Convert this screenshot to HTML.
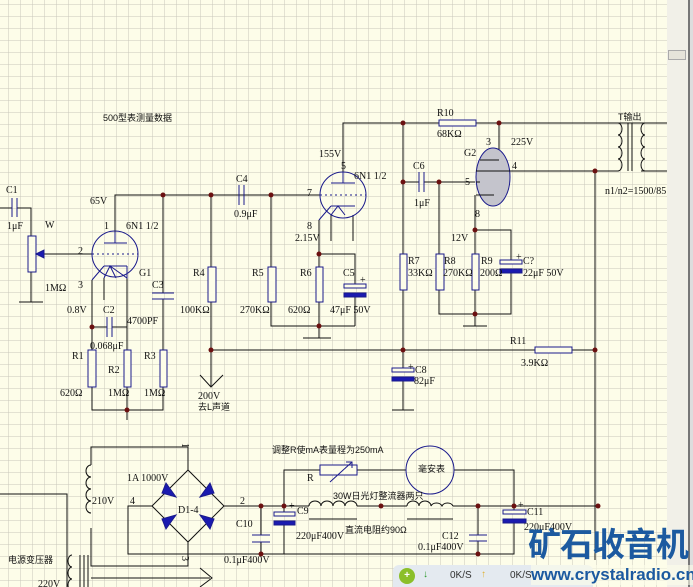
<!DOCTYPE html>
<html><head><meta charset="utf-8"><style>
html,body{margin:0;padding:0;width:693px;height:587px;overflow:hidden;background:#fdfde9}
svg{display:block}
text{font-family:"Liberation Serif","Noto Serif CJK SC","Noto Sans CJK SC",serif;font-size:10px;fill:#111}
.c{font-family:"Liberation Sans","Noto Sans CJK SC",sans-serif;font-size:9px}
</style></head><body>
<svg width="693" height="587" viewBox="0 0 693 587" xmlns="http://www.w3.org/2000/svg">
<defs>
<pattern id="g" x="8" y="4" width="12" height="12" patternUnits="userSpaceOnUse">
<path d="M0 0H12M0 0V12" stroke="#c9c8ba" stroke-width="1" fill="none"/>
</pattern>
</defs>
<rect width="693" height="587" fill="#fdfde9"/>
<rect width="667" height="587" fill="url(#g)"/>
<g stroke="#111" stroke-width="1" fill="none">
<!-- C1 / W -->
<path d="M0 208H12M17 208H31V236M31 272V302M19 302H43"/>
<path d="M40 254H92"/>
<!-- G1 tube wiring -->
<path d="M115 243V195H320"/>
<path d="M92 327V350M92 387V410H163V387M127 327V350M127 387V420"/>
<path d="M92 280V327H107M112 327H127V278"/>
<path d="M104 278V300"/>
<path d="M163 195V293M163 299V350"/>
<!-- R4 -->
<path d="M211 195V267M211 302V387M200 375L211 387L223 375"/>
<path d="M244 195H271"/>
<path d="M211 350H535M572 350H595"/>
<!-- R5 R6 -->
<path d="M271 195V267M271 302V326H355"/>
<path d="M319 220V267M319 302V338M303 338H331"/>
<path d="M319 254H355V286M355 295V326"/>
<path d="M331 215V241M353 215V241"/>
<!-- top -->
<path d="M343 172V123H439M476 123H667"/>
<path d="M403 123V182H419M424 182H475"/>
<path d="M403 182V254M403 290V370M403 378V410M392 410H414"/>
<path d="M439 182V254M439 290V314H511V271M511 262V230H475M475 195V254M475 290V326M463 326H487"/>
<path d="M499 123V160"/>
<path d="M510 171H618M641 123H667M641 171H667"/>
<path d="M595 171V560"/>
<!-- transformer T -->
<path d="M628 123V171M632 123V171"/>
<path d="M618 123a4 6 0 0 1 0 12a4 6 0 0 1 0 12a4 6 0 0 1 0 12a4 6 0 0 1 0 12"/>
<path d="M645 123a4 6 0 0 0 0 12a4 6 0 0 0 0 12a4 6 0 0 0 0 12a4 6 0 0 0 0 12"/>
<!-- power -->
<path d="M0 494H67V587"/>
<path d="M91 465V447H188V470M188 542V566H91V528"/>
<path d="M91 465a5 6 0 0 0 0 12a5 6 0 0 0 0 12a5 6 0 0 0 0 12a5 6 0 0 0 0 12"/>
<path d="M188 470L152 506L188 542L224 506Z"/>
<path d="M152 506H128V554H478"/>
<path d="M224 506H309M357 506H407M453 506H595"/>
<path d="M309 519H357M407 519H453"/>
<path d="M309 506a6 5 0 0 1 12 0a6 5 0 0 1 12 0a6 5 0 0 1 12 0a6 5 0 0 1 12 0"/>
<path d="M407 506a6 5 0 0 1 12 0a6 5 0 0 1 12 0a6 5 0 0 1 11 0a6 5 0 0 1 11 0"/>
<path d="M261 506V535M261 542V554"/>
<path d="M284 506V514M284 523V554"/>
<path d="M478 506V535M478 541V554"/>
<path d="M514 506V512M514 521V554H478"/>
<path d="M284 506V470H320M357 470H406M454 470H514V506"/>
<path d="M72 555a4 6 0 0 0 0 12a4 6 0 0 0 0 12a4 6 0 0 0 0 12"/>
<path d="M80 555V587M84 555V587M88 555V587"/>
<path d="M91 578H210M200 568L212 578L200 587"/>
</g>
<!-- components blue -->
<g stroke="#1a1a8c" stroke-width="1" fill="#fdfde9">
<rect x="28" y="236" width="8" height="36"/>
<rect x="88" y="350" width="8" height="37"/>
<rect x="124" y="350" width="7" height="37"/>
<rect x="160" y="350" width="7" height="37"/>
<rect x="208" y="267" width="8" height="35"/>
<rect x="268" y="267" width="8" height="35"/>
<rect x="316" y="267" width="7" height="35"/>
<rect x="400" y="254" width="7" height="36"/>
<rect x="436" y="254" width="8" height="36"/>
<rect x="472" y="254" width="7" height="36"/>
<rect x="439" y="120" width="37" height="6"/>
<rect x="535" y="347" width="37" height="6"/>
<rect x="320" y="465" width="37" height="10"/>
<path d="M12 198V217M17 198V217M107 317V337M112 317V337M152 293H174M152 299H174M239 185V205M244 185V205M419 172V192M424 172V192M252 535H270M252 542H270M469 535H487M469 541H487" fill="none"/>
<circle cx="115" cy="254" r="23" fill="none"/>
<circle cx="343" cy="195" r="23" fill="none"/>
<path d="M104 243H127M115 243V232M104 266H127M92 280L104 266M104 278L110 266L116 278M110 266L127 278V266M343 172V183M331 183H355M331 206H355M319 220L331 206M331 215L338 206L345 215" fill="none"/>
<path d="M92 254H138M320 195H366" stroke-dasharray="2 3" fill="none"/>
<ellipse cx="493" cy="177" rx="17" ry="29" fill="#c4c4cc"/>
<path d="M480 160H499M476 171H510M476 195H494M476 182H480" fill="none" stroke="#111"/>
<rect x="344" y="284" width="22" height="4"/>
<rect x="344" y="293" width="22" height="4" fill="#1a1ab0"/>
<rect x="500" y="260" width="22" height="4"/>
<rect x="500" y="269" width="22" height="4" fill="#1a1ab0"/>
<rect x="392" y="368" width="22" height="4"/>
<rect x="392" y="377" width="22" height="4" fill="#1a1ab0"/>
<rect x="274" y="512" width="21" height="4"/>
<rect x="274" y="521" width="21" height="4" fill="#1a1ab0"/>
<rect x="503" y="510" width="23" height="4"/>
<rect x="503" y="519" width="23" height="4" fill="#1a1ab0"/>
<path d="M36 254L44 250V258Z" fill="#1a1ab0"/>
<path d="M330 482L352 462M346 462H352V468" fill="none"/>
<ellipse cx="430" cy="470" rx="24" ry="24" fill="none"/>
<g fill="#1a1ab0">
<path d="M166 483L176 497L162 493Z"/><path d="M210 483L200 497L214 493Z"/>
<path d="M166 529L176 515L162 519Z"/><path d="M210 529L200 515L214 519Z"/>
</g>
</g>
<!-- nodes -->
<g fill="#6b1010">
<circle cx="163" cy="195" r="2.5"/><circle cx="211" cy="195" r="2.5"/><circle cx="271" cy="195" r="2.5"/>
<circle cx="92" cy="327" r="2.5"/><circle cx="127" cy="410" r="2.5"/><circle cx="211" cy="350" r="2.5"/>
<circle cx="319" cy="254" r="2.5"/><circle cx="319" cy="326" r="2.5"/>
<circle cx="403" cy="123" r="2.5"/><circle cx="499" cy="123" r="2.5"/><circle cx="403" cy="182" r="2.5"/><circle cx="439" cy="182" r="2.5"/>
<circle cx="475" cy="230" r="2.5"/><circle cx="475" cy="314" r="2.5"/><circle cx="403" cy="350" r="2.5"/>
<circle cx="595" cy="171" r="2.5"/><circle cx="595" cy="350" r="2.5"/>
<circle cx="261" cy="506" r="2.5"/><circle cx="284" cy="506" r="2.5"/><circle cx="381" cy="506" r="2.5"/>
<circle cx="478" cy="506" r="2.5"/><circle cx="514" cy="506" r="2.5"/><circle cx="598" cy="506" r="2.5"/>
<circle cx="261" cy="554" r="2.5"/><circle cx="478" cy="554" r="2.5"/>
</g>
<!-- labels -->
<text x="103" y="121" class="c">500型表测量数据</text>
<text x="6" y="193">C1</text><text x="7" y="229">1μF</text><text x="45" y="228">W</text><text x="78" y="254">2</text><text x="45" y="291">1MΩ</text>
<text x="90" y="204">65V</text><text x="104" y="229">1</text><text x="126" y="229">6N1 1/2</text><text x="78" y="288">3</text><text x="139" y="276">G1</text>
<text x="67" y="313">0.8V</text><text x="103" y="313">C2</text><text x="127" y="324">4700PF</text><text x="90" y="349">0.068μF</text><text x="152" y="288">C3</text>
<text x="72" y="359">R1</text><text x="60" y="396">620Ω</text><text x="108" y="373">R2</text><text x="108" y="396">1MΩ</text><text x="144" y="359">R3</text><text x="144" y="396">1MΩ</text>
<text x="236" y="182">C4</text><text x="234" y="217">0.9μF</text><text x="193" y="276">R4</text><text x="180" y="313">100KΩ</text>
<text x="252" y="276">R5</text><text x="240" y="313">270KΩ</text><text x="300" y="276">R6</text><text x="288" y="313">620Ω</text>
<text x="198" y="399">200V</text><text x="198" y="410" class="c">去L声道</text>
<text x="319" y="157">155V</text><text x="341" y="169">5</text><text x="354" y="179">6N1 1/2</text><text x="307" y="196">7</text><text x="307" y="229">8</text><text x="295" y="241">2.15V</text>
<text x="343" y="276">C5</text><text x="360" y="283">+</text><text x="330" y="313">47μF 50V</text>
<text x="437" y="116">R10</text><text x="437" y="137">68KΩ</text><text x="464" y="156">G2</text><text x="486" y="145">3</text><text x="511" y="145">225V</text>
<text x="512" y="169">4</text><text x="465" y="185">5</text><text x="413" y="169">C6</text><text x="414" y="206">1μF</text><text x="475" y="217">8</text><text x="451" y="241">12V</text>
<text x="408" y="264">R7</text><text x="408" y="276">33KΩ</text><text x="444" y="264">R8</text><text x="443" y="276">270KΩ</text><text x="481" y="264">R9</text><text x="480" y="276">200Ω</text>
<text x="516" y="260">+</text><text x="523" y="264">C?</text><text x="523" y="276">22μF 50V</text>
<text x="618" y="120" class="c">T输出</text><text x="605" y="194">n1/n2=1500/85</text>
<text x="510" y="344">R11</text><text x="521" y="366">3.9KΩ</text>
<text x="408" y="370">+</text><text x="415" y="373">C8</text><text x="414" y="384">82μF</text>
<text x="272" y="453" class="c">调整R使mA表量程为250mA</text><text x="418" y="472" class="c">毫安表</text><text x="307" y="481">R</text>
<text x="127" y="481">1A 1000V</text><text x="92" y="504">210V</text><text x="130" y="504">4</text><text x="240" y="504">2</text><text x="178" y="513">D1-4</text>
<text x="181" y="450" transform="rotate(90 185 447)">1</text><text x="181" y="563" transform="rotate(90 185 560)">3</text>
<text x="333" y="499" class="c">30W日光灯整流器两只</text><text x="345" y="533" class="c">直流电阻约90Ω</text>
<text x="289" y="509">+</text><text x="297" y="514">C9</text><text x="296" y="539">220μF400V</text>
<text x="236" y="527">C10</text><text x="224" y="563">0.1μF400V</text>
<text x="442" y="539">C12</text><text x="418" y="550">0.1μF400V</text>
<text x="518" y="508">+</text><text x="527" y="515">C11</text><text x="524" y="530">220μF400V</text>
<text x="8" y="563" class="c">电源变压器</text><text x="38" y="587">220V</text>
</svg>
<div style="position:absolute;left:667px;top:0;width:21px;height:587px;background:#f1f0e8"></div>
<div style="position:absolute;left:668px;top:50px;width:16px;height:8px;background:#e6e4da;border:1px solid #aaa"></div>
<div style="position:absolute;left:688px;top:0;width:2px;height:587px;background:#777"></div>
<div style="position:absolute;left:690px;top:0;width:3px;height:587px;background:#ddd"></div>
<div style="position:absolute;left:393px;top:565px;width:200px;height:22px;background:#e4eaf0;border-radius:6px 6px 0 0;font:10px 'Liberation Sans',sans-serif;color:#333">
<div style="position:absolute;left:6px;top:3px;width:16px;height:16px;border-radius:50%;background:#8bbf2a;color:#fff;text-align:center;line-height:16px;font-weight:bold">+</div>
<span style="position:absolute;left:30px;top:4px;color:#2a9a2a;font-weight:bold">↓</span>
<span style="position:absolute;left:57px;top:5px">0K/S</span>
<span style="position:absolute;left:88px;top:4px;color:#e0b030;font-weight:bold">↑</span>
<span style="position:absolute;left:117px;top:5px">0K/S</span>
</div>
<div style="position:absolute;left:528px;top:522px;font:bold 33px 'Noto Sans CJK SC',sans-serif;color:#1c5aa0;letter-spacing:-1px;line-height:40px">矿石收音机</div>
<div style="position:absolute;left:531px;top:565px;font:bold 17px 'Liberation Sans',sans-serif;color:#1c5aa0;background:rgba(253,253,233,0.6);line-height:20px">www.crystalradio.cn</div>
</body></html>
